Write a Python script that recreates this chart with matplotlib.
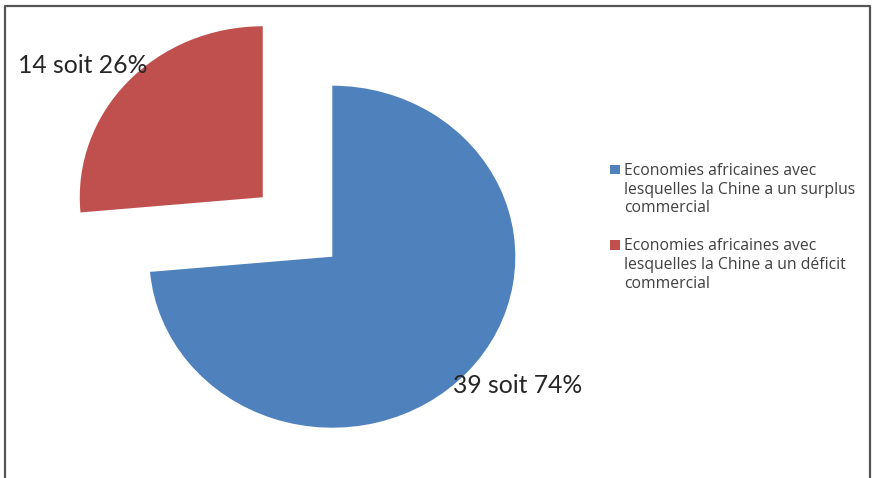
import matplotlib
matplotlib.use("Agg")
import matplotlib.pyplot as plt
from matplotlib.lines import Line2D
from matplotlib.patches import Rectangle

# ---------------- data ----------------
counts = [39, 14]
labels = [
    "Economies africaines avec\nlesquelles la Chine a un surplus\ncommercial",
    "Economies africaines avec\nlesquelles la Chine a un déficit\ncommercial",
]
colors = ["#4F81BD", "#C0504D"]
explode = [0, 0.515]

W, H = 873, 478
plt.rcParams["font.family"] = ["Open Sans", "DejaVu Sans"]

fig = plt.figure(figsize=(W / 100, H / 100), dpi=100)
fig.patch.set_facecolor("white")

# axes covers the whole figure; limits give ~183 px per unit across, ~171 px up
ax = fig.add_axes([0, 0, 1, 1])
cx, cy = 332.3, 256.7
sx, sy = 183.0, 171.0

wedges, _ = ax.pie(counts, colors=colors, startangle=90, counterclock=False,
                   explode=explode, wedgeprops=dict(linewidth=0))
ax.set_aspect("auto")
ax.set_xlim(-cx / sx, (W - cx) / sx)
ax.set_ylim(-(H - cy) / sy, cy / sy)
ax.axis("off")

total = sum(counts)
label_pos = [(1.015, -0.756), (-1.362, 1.121)]
for n, (x, y) in zip(counts, label_pos):
    ax.text(x, y, f"{n} soit {100 * n / total:.0f}%", ha="center", va="center",
            fontsize=17.8, color="#262626", family=["Lato", "DejaVu Sans"])

# legend drawn by hand so the square sits beside the first line
def px(x, y):
    return x / W, 1 - y / H

for i, (lab, col) in enumerate(zip(labels, colors)):
    top = 169.5 + i * 75.5
    fig.add_artist(Rectangle(px(610, top + 4.5), 9.5 / W, 9.5 / H,
                             transform=fig.transFigure, color=col, lw=0))
    fig.text(*px(624, top - 6.5), lab, ha="left", va="top", fontsize=11.3,
             color="#404040", linespacing=1.22)

# frame (no bottom edge)
fig.add_artist(Line2D([4.5 / W, 4.5 / W, 870 / W, 870 / W],
                      [0, 1 - 5.5 / H, 1 - 5.5 / H, 0],
                      transform=fig.transFigure, color="#555555", lw=1.6))

fig.savefig("out.png", dpi=100)
